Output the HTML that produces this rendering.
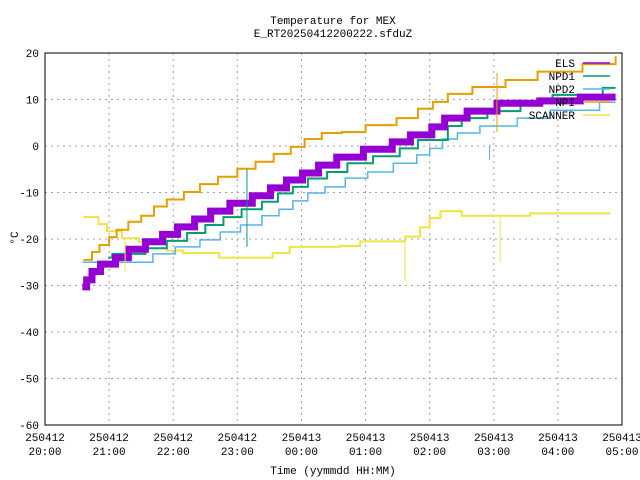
<!DOCTYPE html>
<html><head><meta charset="utf-8"><style>
body{margin:0;background:#fff}
svg{display:block;font-family:"Liberation Mono",monospace;font-size:11px}
</style></head><body>
<svg id="c" width="640" height="480">
<rect x="0" y="0" width="640" height="480" fill="#fff"/>
<text x="333" y="24" text-anchor="middle">Temperature for MEX</text>
<text x="333" y="37" text-anchor="middle">E_RT20250412200222.sfduZ</text>
<text x="333" y="474" text-anchor="middle">Time (yymmdd HH:MM)</text>
<text x="14" y="242" text-anchor="middle" transform="rotate(-90 14 238)">°C</text>
<g id="grid"></g>
<g id="series"></g>
<g id="legend"></g>
<rect x="45" y="53" width="577" height="372" fill="none" stroke="#000"/>
</svg>
<script>
// time in minutes since 2025-04-12 20:00
const yTicks=[20,10,0,-10,-20,-30,-40,-50,-60];
const xTickMinutes=[0,60,120,180,240,300,360,420,480,540];
const xTickDates=["250412","250412","250412","250412","250413","250413","250413","250413","250413","250413"];
const xTickTimes=["20:00","21:00","22:00","23:00","00:00","01:00","02:00","03:00","04:00","05:00"];
const seriesNames=["ELS","NPD1","NPD2","NPI","SCANNER"];
const seriesColors=["#9400d3","#009e73","#56b4e9","#e69f00","#f0e442"];
const elsTimes=[35,39,44,52,66,78,94,110,124,140,155,173,194,211,226,241,256,273,298,325,342,362,374,395,423,463,501,534];
const elsValues=[-30.3,-28.8,-27,-25.4,-24,-22.2,-20.6,-19,-17.4,-15.7,-14,-12.3,-10.7,-9,-7.3,-5.8,-4.1,-2.4,-0.7,0.9,2.4,4.1,6,7.5,9.2,9.7,10.5,10.5];
const npd1Times=[59,63,94,114,133,150,167,184,203,218,232,246,264,283,307,332,349,377,390,414,445,475,522,534];
const npd1Values=[-24,-23.2,-22,-20.4,-18.7,-17,-15.3,-13.6,-12,-10.2,-8.8,-7,-5.6,-3.7,-2.2,-0.5,1.3,4.3,6,7.5,9.2,11,12.5,12.5];
const npd2Times=[35,101,122,145,164,183,203,219,232,246,262,281,302,326,348,360,372,386,407,442,473,519,534];
const npd2Values=[-25,-23.2,-21.7,-20.2,-18.5,-17,-15,-13.6,-11.8,-10.1,-8.8,-6.9,-5.6,-3.7,-1.9,-0.5,1.5,2.8,4.3,6,7.7,9.4,9.4];
const npiTimes=[36,44,51,60,67,78,90,102,114,130,145,162,180,197,214,230,243,259,278,300,329,349,363,377,400,431,461,503,534];
const npiValues=[-24.5,-22.8,-21.3,-19.6,-18,-16.3,-15,-13,-11.5,-9.9,-8.2,-6.6,-4.9,-3.4,-1.7,-0.2,1.5,2.8,3,4.5,6,8,9.5,11.2,12.7,14.2,16,17.6,19.3];
const scanTimes=[36,50,58,72,88,114,129,163,213,229,276,295,337,351,360,370,390,454,529];
const scanValues=[-15.3,-16.8,-18.3,-19.8,-20.6,-22.5,-23,-24,-23,-21.7,-21.5,-20.5,-19.5,-17.5,-15.5,-14,-15,-14.5,-14.5];
const spikeSeries=[3,1,4,4,4,2];
const spikeTimes=[423,189,337,426,75,416];
const spikeFrom=[15.7,-5,-21,-15,-20,0];
const spikeTo=[3,-21.7,-29,-25,-27,-3];

const NS="http://www.w3.org/2000/svg";
const X0=45,X1=622,Y0=53,Y1=425;
function xs(m){return X0+(m-0)/(540-0)*(X1-X0);}
function ys(v){return Y0+(20-v)/(80)*(Y1-Y0);}
function mk(t,a,p){const e=document.createElementNS(NS,t);for(const k in a)e.setAttribute(k,a[k]);p.appendChild(e);return e;}
const grid=document.getElementById('grid'),svg=document.getElementById('c');
yTicks.forEach(v=>{
  const y=ys(v);
  if(v>-60&&v<20){const l=mk('line',{x1:X0,x2:X1,y1:y,y2:y,stroke:'#a0a0a0','stroke-dasharray':'2,4'},grid);
  
  }
  const t=mk('text',{x:39,y:y+4,'text-anchor':'end'},svg);t.textContent=v;
  
  
});
xTickMinutes.forEach((m,i)=>{
  const x=xs(m);
  if(i>0&&i<xTickMinutes.length-1){const l=mk('line',{x1:x,x2:x,y1:Y0,y2:Y1,stroke:'#a0a0a0','stroke-dasharray':'2,4'},grid);
  
  }
  const t=mk('text',{x:x,y:441,'text-anchor':'middle'},svg);t.textContent=xTickDates[i];
  
  
  const t2=mk('text',{x:x,y:455,'text-anchor':'middle'},svg);t2.textContent=xTickTimes[i];
  
  
});
const sg=document.getElementById('series');
const allT=[elsTimes,npd1Times,npd2Times,npiTimes,scanTimes];
const allV=[elsValues,npd1Values,npd2Values,npiValues,scanValues];
const widths=[7,2,1.5,2,2];
const order=[4,2,1,0,3];
order.forEach(s=>{
  const T=allT[s],V=allV[s];let d='';
  for(let i=0;i<T.length;i++){
    if(i===0)d+='M'+xs(T[i])+','+ys(V[i]);
    else d+=' H'+xs(T[i])+' V'+ys(V[i]);
  }
  const p=mk('path',{d:d,fill:'none',stroke:seriesColors[s],'stroke-width':widths[s]},sg);
  
  
});
spikeTimes.forEach((m,i)=>{
  const l=mk('line',{x1:xs(m),x2:xs(m),y1:ys(spikeFrom[i]),y2:ys(spikeTo[i]),stroke:seriesColors[spikeSeries[i]],'stroke-width':1},sg);
  
  
});
const lg=document.getElementById('legend');
seriesNames.forEach((n,i)=>{
  const y=63+i*13;
  const t=mk('text',{x:575,y:y+4,'text-anchor':'end'},lg);t.textContent=n;
  
  
  const l=mk('line',{x1:583,x2:610,y1:y,y2:y,stroke:seriesColors[i],'stroke-width':1.5},lg);
  
  
});
</script>
</body></html>
